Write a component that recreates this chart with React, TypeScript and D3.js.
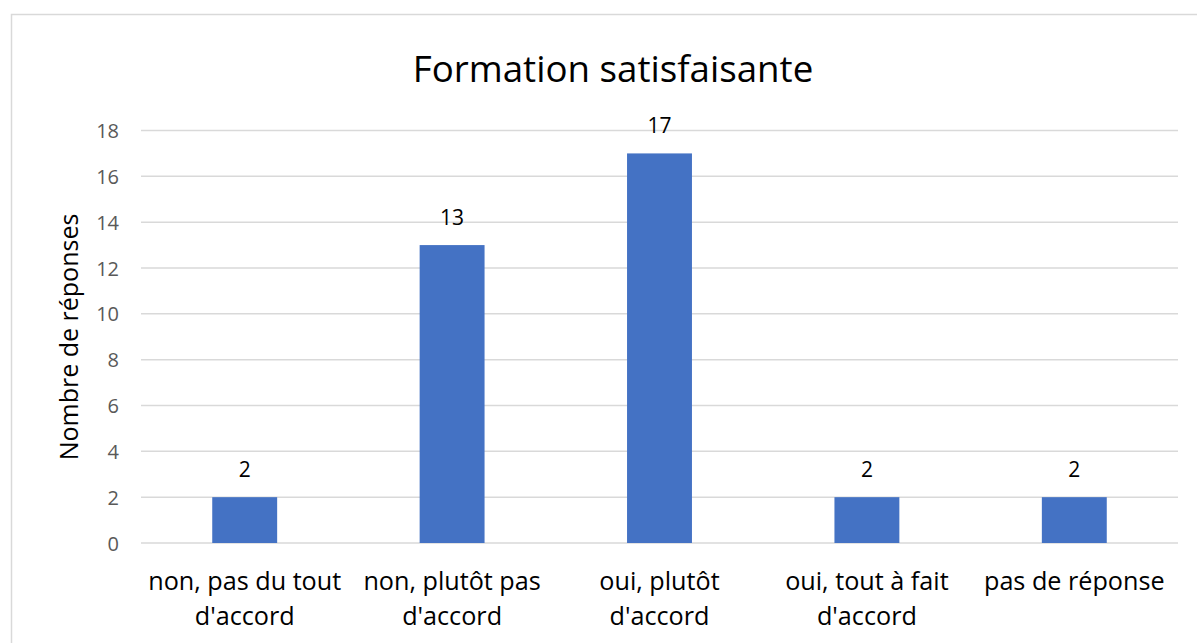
import React from "react";
import * as d3 from "d3";

const categories = [
  ["non, pas du tout", "d'accord"],
  ["non, plutôt pas", "d'accord"],
  ["oui, plutôt", "d'accord"],
  ["oui, tout à fait", "d'accord"],
  ["pas de réponse"],
];
const values = [2, 13, 17, 2, 2];
const yTicks = [0, 2, 4, 6, 8, 10, 12, 14, 16, 18];
const title = "Formation satisfaisante";
const yTitle = "Nombre de réponses";

const W = 1197;
const H = 643;
const FONT = "'Open Sans', 'Noto Sans', sans-serif";

export default function App() {
  const x = d3
    .scaleBand<number>()
    .domain(values.map((_, i) => i))
    .range([141, 1178])
    .padding(0);
  const y = d3.scaleLinear().domain([0, 18]).range([543, 130.5]);
  const barW = x.bandwidth() * 0.313;

  return (
    <svg
      width={W}
      height={H}
      style={{ position: "absolute", left: 0, top: 0, background: "#fff" }}
    >
      <rect x={11.5} y={14.5} width={W} height={H} fill="#fff" stroke="#d9d9d9" strokeWidth={1.5} />
      <text x={613} y={82} textAnchor="middle" fontFamily={FONT} fontSize={36.7} fill="#000">
        {title}
      </text>
      {yTicks.map((t) => (
        <g key={t}>
          <line x1={141} x2={1178} y1={y(t)} y2={y(t)} stroke="#d9d9d9" strokeWidth={1.5} />
          <text x={119} y={y(t) + 7.5} textAnchor="end" fontFamily={FONT} fontSize={20} fill="#595959">
            {t}
          </text>
        </g>
      ))}
      <text
        transform={`translate(78,${337}) rotate(-90)`}
        textAnchor="middle"
        fontFamily={FONT}
        fontSize={25}
        fill="#000"
      >
        {yTitle}
      </text>
      {values.map((v, i) => {
        const cx = (x(i) as number) + x.bandwidth() / 2;
        return (
          <g key={i}>
            <rect x={cx - barW / 2} y={y(v)} width={barW} height={y(0) - y(v)} fill="#4472c4" />
            <text x={cx} y={y(v) - 20} textAnchor="middle" fontFamily={FONT} fontSize={21} fill="#000">
              {v}
            </text>
            {categories[i].map((line, j) => (
              <text
                key={j}
                x={cx}
                y={590 + j * 35}
                textAnchor="middle"
                fontFamily={FONT}
                fontSize={25.2}
                fill="#000"
              >
                {line}
              </text>
            ))}
          </g>
        );
      })}
    </svg>
  );
}
